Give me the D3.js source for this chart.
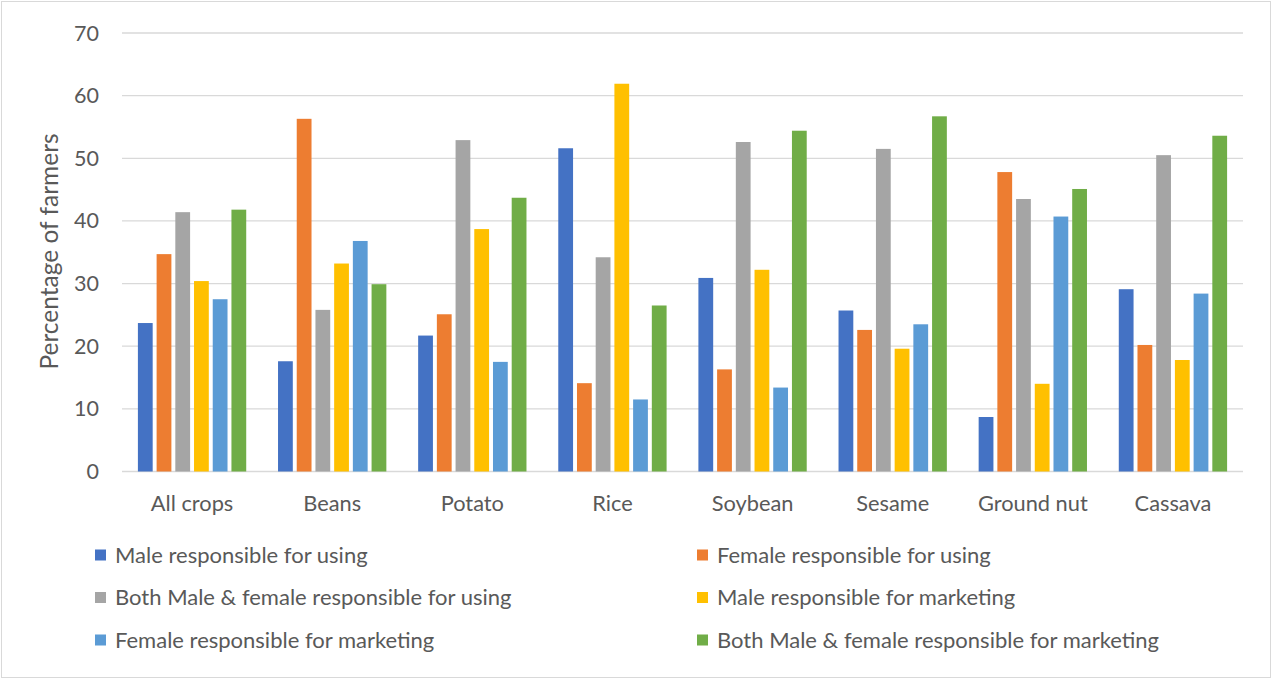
<!DOCTYPE html>
<html>
<head>
<meta charset="utf-8">
<script src="https://cdn.jsdelivr.net/npm/d3@7"></script>
<style>
  html, body { margin: 0; padding: 0; background: #fff; }
  svg { display: block; }
  text { font-family: Lato, "Open Sans", sans-serif; fill: #595959; }
</style>
</head>
<body>
<svg id="chart" width="1272" height="679"></svg>
<script>
// Crop categories along the x axis
const crops = ["All crops", "Beans", "Potato", "Rice", "Soybean", "Sesame", "Ground nut", "Cassava"];

// Series names (legend order)
const seriesNames = [
  "Male responsible for using",
  "Female responsible for using",
  "Both Male & female responsible for using",
  "Male responsible for marketing",
  "Female responsible for marketing",
  "Both Male & female responsible for marketing"
];

// Percentage of farmers per series, one value per crop
const maleUsing        = [23.7, 17.6, 21.7, 51.6, 30.9, 25.7,  8.7, 29.1];
const femaleUsing      = [34.7, 56.3, 25.1, 14.1, 16.3, 22.6, 47.8, 20.2];
const bothUsing        = [41.4, 25.8, 52.9, 34.2, 52.6, 51.5, 43.5, 50.5];
const maleMarketing    = [30.4, 33.2, 38.7, 61.9, 32.2, 19.6, 14.0, 17.8];
const femaleMarketing  = [27.5, 36.8, 17.5, 11.5, 13.4, 23.5, 40.7, 28.4];
const bothMarketing    = [41.8, 29.9, 43.7, 26.5, 54.4, 56.7, 45.1, 53.6];

const seriesValues = [maleUsing, femaleUsing, bothUsing, maleMarketing, femaleMarketing, bothMarketing];
const seriesColors = ["#4472C4", "#ED7D31", "#A5A5A5", "#FFC000", "#5B9BD5", "#70AD47"];

// Y axis tick values
const yTicks = [0, 10, 20, 30, 40, 50, 60, 70];

const svg = d3.select("#chart");
const W = 1272, H = 679;

// Outer chart frame
svg.append("rect")
  .attr("x", 1.5).attr("y", 1.5)
  .attr("width", W - 3).attr("height", H - 3)
  .attr("fill", "#fff").attr("stroke", "#D9D9D9").attr("stroke-width", 1);

const plot = { left: 122, right: 1243, top: 33, bottom: 471.5 };

const x0 = d3.scaleBand().domain(crops).range([plot.left, plot.right]).padding(0);
const x1 = d3.scaleBand().domain(d3.range(seriesNames.length))
  .range([0, x0.bandwidth()]).paddingInner(0.21).paddingOuter(0.85);
const y = d3.scaleLinear().domain([0, 70]).range([plot.bottom, plot.top]);

// Horizontal gridlines
svg.append("g").selectAll("line")
  .data(yTicks)
  .join("line")
  .attr("x1", plot.left).attr("x2", plot.right)
  .attr("y1", d => y(d)).attr("y2", d => y(d))
  .attr("stroke", "#D9D9D9").attr("stroke-width", 1.3);

// Y tick labels
svg.append("g").selectAll("text")
  .data(yTicks)
  .join("text")
  .attr("x", 99)
  .attr("y", d => y(d))
  .attr("dy", "0.35em")
  .attr("text-anchor", "end")
  .attr("font-size", 21.5)
  .text(d => d);

// Y axis title
svg.append("text")
  .attr("transform", "translate(58, 251.5) rotate(-90)")
  .attr("text-anchor", "middle")
  .attr("font-size", 24.5)
  .text("Percentage of farmers");

// Bars
const groups = svg.append("g").selectAll("g")
  .data(crops)
  .join("g")
  .attr("transform", d => `translate(${x0(d)},0)`);

groups.selectAll("rect")
  .data((c, i) => seriesValues.map((vals, s) => ({ s, v: vals[i] })))
  .join("rect")
  .attr("x", d => x1(d.s))
  .attr("width", x1.bandwidth())
  .attr("y", d => y(d.v))
  .attr("height", d => y(0) - y(d.v))
  .attr("fill", d => seriesColors[d.s]);

// Category labels
svg.append("g").selectAll("text")
  .data(crops)
  .join("text")
  .attr("x", d => x0(d) + x0.bandwidth() / 2)
  .attr("y", 503)
  .attr("dy", "0.35em")
  .attr("text-anchor", "middle")
  .attr("font-size", 21.8)
  .text(d => d);

// Legend: two columns, three rows
const legendCols = [95, 697];
const legendRows = [555, 597.5, 640];
const legend = svg.append("g").selectAll("g")
  .data(seriesNames)
  .join("g")
  .attr("transform", (d, i) => `translate(${legendCols[i % 2]}, ${legendRows[Math.floor(i / 2)]})`);

legend.append("rect")
  .attr("x", 0).attr("y", -5.5)
  .attr("width", 11).attr("height", 11)
  .attr("fill", (d, i) => seriesColors[i]);

legend.append("text")
  .attr("x", 20)
  .attr("y", 0)
  .attr("dy", "0.35em")
  .attr("font-size", 22)
  .text(d => d);
</script>
</body>
</html>
